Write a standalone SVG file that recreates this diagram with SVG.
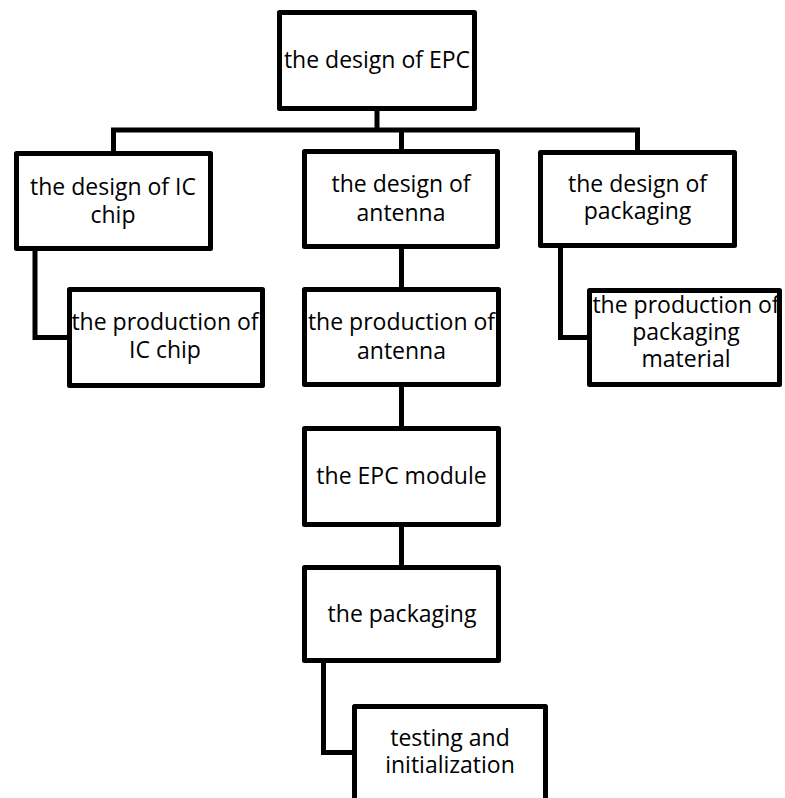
<svg xmlns="http://www.w3.org/2000/svg" width="785" height="798" viewBox="0 0 785 798">
<style>
.box{fill:#fff;stroke:#000;stroke-width:5;stroke-linejoin:round}
.conn{fill:none;stroke:#000;stroke-width:5;stroke-linejoin:miter;stroke-linecap:butt}
text{font-family:"Open Sans","Liberation Sans",sans-serif;font-size:23px;fill:#000;text-anchor:middle}
</style>
<rect width="785" height="798" fill="#fff"/>
<g id="connectors">
<path class="conn" d="M377,110 V130"/>
<path class="conn" d="M113.5,152 V130 H637.5 V151"/>
<path class="conn" d="M401.5,130 V150"/>
<path class="conn" d="M35,250 V337.5 H68"/>
<path class="conn" d="M401.5,248 V288"/>
<path class="conn" d="M560.5,247 V337.5 H588"/>
<path class="conn" d="M401.5,386 V427"/>
<path class="conn" d="M401.5,526 V566"/>
<path class="conn" d="M323.5,662 V752.5 H353"/>
</g>
<g id="n_epc_design">
<rect class="box" x="279.5" y="12.5" width="195" height="96"/>
<text x="377" y="68">the design of EPC</text>
</g>
<g id="n_ic_design">
<rect class="box" x="16.5" y="153.5" width="194" height="95"/>
<text x="113" y="195">the design of IC</text>
<text x="113" y="223">chip</text>
</g>
<g id="n_antenna_design">
<rect class="box" x="304.5" y="151.5" width="193" height="95"/>
<text x="401" y="192">the design of</text>
<text x="401" y="221">antenna</text>
</g>
<g id="n_packaging_design">
<rect class="box" x="540.5" y="152.5" width="194" height="93"/>
<text x="637.5" y="192">the design of</text>
<text x="637.5" y="219">packaging</text>
</g>
<g id="n_ic_production">
<rect class="box" x="69.5" y="289.5" width="193" height="96"/>
<text x="165" y="330">the production of</text>
<text x="165" y="358">IC chip</text>
</g>
<g id="n_antenna_production">
<rect class="box" x="304.5" y="289.5" width="194" height="95"/>
<text x="401.5" y="330">the production of</text>
<text x="401.5" y="359">antenna</text>
</g>
<g id="n_packaging_material">
<rect class="box" x="589.5" y="290.5" width="190" height="94"/>
<text x="686" y="313">the production of</text>
<text x="686" y="340">packaging</text>
<text x="686" y="367">material</text>
</g>
<g id="n_epc_module">
<rect class="box" x="304.5" y="428.5" width="194" height="96"/>
<text x="401.5" y="484">the EPC module</text>
</g>
<g id="n_packaging">
<rect class="box" x="304.5" y="567.5" width="194" height="93"/>
<text x="402" y="622">the packaging</text>
</g>
<g id="n_testing">
<rect class="box" x="354.5" y="706.5" width="191" height="110"/>
<text x="450" y="746">testing and</text>
<text x="450" y="773">initialization</text>
</g>
</svg>
